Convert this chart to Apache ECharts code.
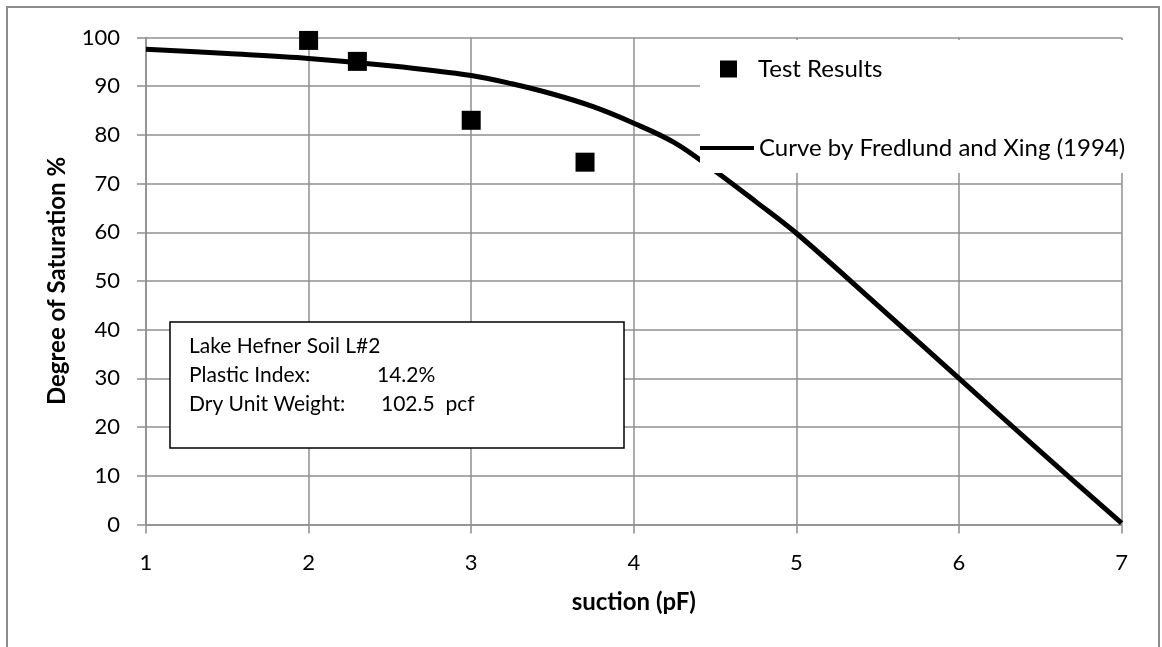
<!DOCTYPE html>
<html>
<head>
<meta charset="utf-8">
<script src="https://cdn.jsdelivr.net/npm/echarts@6/dist/echarts.min.js"></script>
<style>
html,body{margin:0;padding:0;background:#fff;}
#chart{width:1162px;height:647px;}
</style>
</head>
<body>
<div id="chart"></div>
<script>
// Measured test results
const testX = [2, 2.3, 3, 3.7];
const testY = [99.4, 95.1, 83.0, 74.4];
// Fitted curve (Fredlund and Xing, 1994)
const curveX = [1, 1.5, 2, 2.5, 3, 3.25, 3.5, 3.75, 4, 4.25, 4.5, 4.75, 5, 5.5, 6, 6.5, 7];
const curveY = [97.6, 96.7, 95.7, 94.2, 92.2, 90.5, 88.4, 85.8, 82.4, 78.4, 72.6, 66.3, 59.8, 45, 30, 15, 0.3];
// Axis ticks
const xTicks = [1, 2, 3, 4, 5, 6, 7];
const yTicks = [0, 10, 20, 30, 40, 50, 60, 70, 80, 90, 100];
const seriesNames = ['Test Results', 'Curve by Fredlund and Xing (1994)'];
const infoLines = [
  ['Lake Hefner Soil L#2', ''],
  ['Plastic Index:', '14.2%'],
  ['Dry Unit Weight:', '102.5  pcf']
];

const FONT = 'Lato, "Open Sans", sans-serif';
const GRID_COLOR = '#8f8f8f';

const chart = echarts.init(document.getElementById('chart'), null, {renderer: 'canvas'});

const infoText = [];
const infoY = [346, 375, 404];
const infoValX = [0, 377, 381];
infoLines.forEach((ln, i) => {
  infoText.push({type: 'text', z: 11, style: {text: ln[0], x: 189, y: infoY[i], fill: '#000', font: '21px ' + FONT, verticalAlign: 'middle', align: 'left'}});
  if (ln[1]) infoText.push({type: 'text', z: 11, style: {text: ln[1], x: infoValX[i], y: infoY[i], fill: '#000', font: '21px ' + FONT, verticalAlign: 'middle', align: 'left'}});
});

const option = {
  backgroundColor: '#fff',
  animation: false,
  textStyle: {fontFamily: FONT},
  grid: {left: 146, right: 40.4, top: 37.5, bottom: 122.5},
  xAxis: {
    type: 'value', min: xTicks[0], max: xTicks[xTicks.length - 1], interval: 1,
    name: 'suction (pF)', nameLocation: 'middle', nameGap: 66,
    nameTextStyle: {fontSize: 24, fontWeight: 'bold', color: '#000', fontFamily: FONT},
    axisLine: {show: true, lineStyle: {color: GRID_COLOR, width: 1.5}},
    axisTick: {show: true, length: 9, lineStyle: {color: GRID_COLOR, width: 1.5}},
    axisLabel: {fontSize: 22, color: '#000', margin: 27, fontFamily: FONT},
    splitLine: {show: true, lineStyle: {color: GRID_COLOR, width: 1.5}}
  },
  yAxis: {
    type: 'value', min: yTicks[0], max: yTicks[yTicks.length - 1], interval: 10,
    name: 'Degree of Saturation %', nameLocation: 'middle', nameGap: 77,
    nameTextStyle: {fontSize: 24, fontWeight: 'bold', color: '#000', fontFamily: FONT},
    axisLine: {show: true, lineStyle: {color: GRID_COLOR, width: 1.5}},
    axisTick: {show: true, length: 9, lineStyle: {color: GRID_COLOR, width: 1.5}},
    axisLabel: {fontSize: 22, color: '#000', margin: 26, fontFamily: FONT},
    splitLine: {show: true, lineStyle: {color: GRID_COLOR, width: 1.5}}
  },
  legend: [
    {
      data: [{name: seriesNames[0], icon: 'rect'}], orient: 'vertical', left: 720, top: 57, padding: 0,
      itemWidth: 17, itemHeight: 17, z: 12,
      itemStyle: {color: '#000', opacity: 1},
      textStyle: {fontSize: 24, color: '#000', fontFamily: FONT, padding: [0, 0, 0, 16]}
    },
    {
      data: [{name: seriesNames[1], icon: 'rect'}], orient: 'vertical', left: 700, top: 136, padding: 0,
      itemWidth: 54, itemHeight: 4, z: 12,
      itemStyle: {color: '#000', opacity: 1},
      textStyle: {fontSize: 24, color: '#000', fontFamily: FONT}
    }
  ],
  graphic: [
    {type: 'rect', z: 100, silent: true, shape: {x: 7, y: 7, width: 1152, height: 700}, style: {fill: 'none', stroke: '#8c8c8c', lineWidth: 2}},
    {type: 'rect', z: 10, silent: true, shape: {x: 700, y: 40, width: 432, height: 133}, style: {fill: '#fff'}},
    {type: 'rect', z: 10, silent: true, shape: {x: 170, y: 322, width: 454, height: 126}, style: {fill: '#fff', stroke: '#000', lineWidth: 1.5}}
  ].concat(infoText),
  series: [
    {
      name: seriesNames[1], type: 'line', z: 3,
      data: curveX.map((x, i) => [x, curveY[i]]),
      showSymbol: false, symbol: 'none', smooth: 0.35,
      lineStyle: {color: '#000', width: 5},
      itemStyle: {color: '#000'}
    },
    {
      name: seriesNames[0], type: 'scatter', z: 4,
      data: testX.map((x, i) => [x, testY[i]]),
      symbol: 'rect', symbolSize: 19,
      itemStyle: {color: '#000', opacity: 1}
    }
  ]
};
chart.setOption(option);
</script>
</body>
</html>
